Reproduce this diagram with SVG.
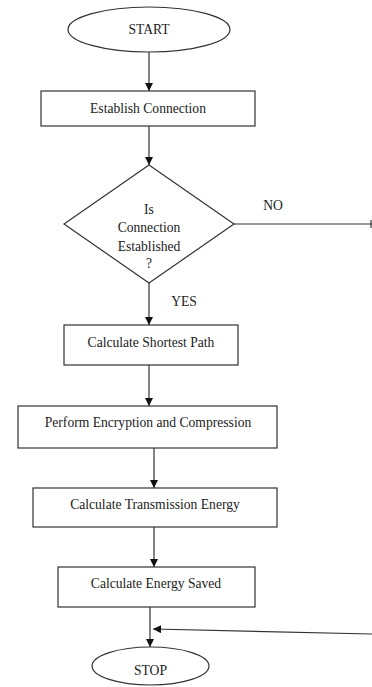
<svg xmlns="http://www.w3.org/2000/svg" width="372" height="687" viewBox="0 0 372 687">
<style>
.s{fill:#fff;stroke:#333;stroke-width:1.2}
.t{font-family:"Liberation Serif","Times New Roman",serif;font-size:13.6px;fill:#222;text-anchor:middle}
.c{fill:none;stroke:#333;stroke-width:1.2}
</style>
<defs>
<marker id="a" markerWidth="8" markerHeight="8" refX="8" refY="4" orient="auto" markerUnits="userSpaceOnUse">
<path d="M0,0 L8,4 L0,8 Z" fill="#111"/>
</marker>
</defs>
<rect width="372" height="687" fill="#fff"/>
<g id="connectors">
<line class="c" x1="149" y1="52" x2="149" y2="91" marker-end="url(#a)"/>
<line class="c" x1="149" y1="126" x2="149" y2="165" marker-end="url(#a)"/>
<line class="c" x1="234" y1="224" x2="372" y2="224"/>
<line class="c" x1="371" y1="220" x2="371" y2="228"/>
<line class="c" x1="149" y1="283" x2="149" y2="325" marker-end="url(#a)"/>
<line class="c" x1="149" y1="365" x2="149" y2="406" marker-end="url(#a)"/>
<line class="c" x1="154" y1="448" x2="154" y2="488" marker-end="url(#a)"/>
<line class="c" x1="154" y1="527" x2="154" y2="567" marker-end="url(#a)"/>
<line class="c" x1="150" y1="607" x2="150" y2="647" marker-end="url(#a)"/>
<line class="c" x1="372" y1="634" x2="153" y2="629" marker-end="url(#a)"/>
<text class="t" x="273" y="210">NO</text>
<text class="t" x="184" y="306">YES</text>
</g>
<g id="start">
<ellipse class="s" cx="149" cy="29.5" rx="81" ry="22.5"/>
<text class="t" x="149" y="34">START</text>
</g>
<g id="establish">
<rect class="s" x="41" y="91" width="214" height="35"/>
<text class="t" x="148" y="113">Establish Connection</text>
</g>
<g id="decision">
<polygon class="s" points="149,165 234,224 149,283 64,224"/>
<text class="t" x="149" y="214">Is</text>
<text class="t" x="149" y="232">Connection</text>
<text class="t" x="149" y="251">Established</text>
<text class="t" x="149" y="268">?</text>
</g>
<g id="shortest">
<rect class="s" x="64" y="325" width="174" height="40"/>
<text class="t" x="151" y="347">Calculate Shortest Path</text>
</g>
<g id="encrypt">
<rect class="s" x="18" y="406" width="259" height="42"/>
<text class="t" x="148" y="427">Perform Encryption and Compression</text>
</g>
<g id="transmission">
<rect class="s" x="33" y="488" width="244" height="39"/>
<text class="t" x="155" y="509">Calculate Transmission Energy</text>
</g>
<g id="saved">
<rect class="s" x="58" y="567" width="197" height="40"/>
<text class="t" x="156" y="588">Calculate Energy Saved</text>
</g>
<g id="stop">
<ellipse class="s" cx="150.5" cy="666" rx="58.5" ry="19"/>
<text class="t" x="150.5" y="675">STOP</text>
</g>
</svg>
